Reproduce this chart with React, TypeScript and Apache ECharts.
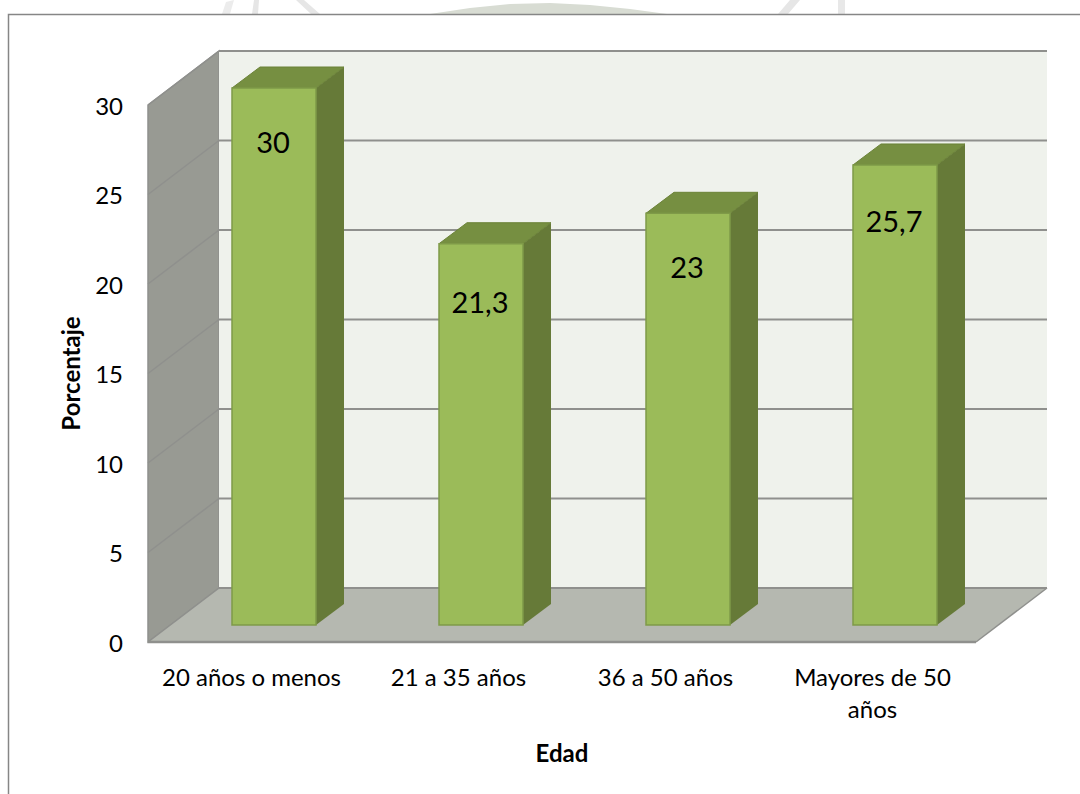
import React, { useEffect, useRef } from "react";
import * as echarts from "echarts";

const categories = ["20 años o menos", "21 a 35 años", "36 a 50 años", "Mayores de 50\naños"];
const values = [30, 21.3, 23, 25.7];
const valueLabels = ["30", "21,3", "23", "25,7"];
const yTicks = [0, 5, 10, 15, 20, 25, 30];
const xAxisName = "Edad";
const yAxisName = "Porcentaje";

const WALL_DX = 71;
const WALL_DY = -54;
const BAR_OFFSET_X = 22.5;
const BAR_OFFSET_Y = -17;
const BAR_WIDTH = 84;
const BAR_DX = 28;
const BAR_DY = -21;
const LABEL_NUDGE = [0, 5, 0, 3];
const FONT = "Lato, 'Open Sans', sans-serif";
const EDGE = "#8f908d";

function renderWalls(_params: any, api: any) {
  const band = api.size([1, 0])[0];
  const [c0, y0] = api.coord([0, 0]);
  const [c3] = api.coord([3, 0]);
  const [, yTop] = api.coord([0, 30]);
  const x0 = c0 - band / 2;
  const x1 = c3 + band / 2;
  const children: any[] = [
    {
      type: "polygon",
      shape: { points: [[x0, y0], [x0, yTop], [x0 + WALL_DX, yTop + WALL_DY], [x0 + WALL_DX, y0 + WALL_DY]] },
      style: { fill: "#989a93", stroke: EDGE, lineWidth: 1.5 },
    },
    {
      type: "rect",
      shape: { x: x0 + WALL_DX, y: yTop + WALL_DY, width: x1 - x0, height: y0 - yTop },
      style: { fill: "#eff2ec" },
    },
    {
      type: "polygon",
      shape: { points: [[x0, y0], [x1, y0], [x1 + WALL_DX, y0 + WALL_DY], [x0 + WALL_DX, y0 + WALL_DY]] },
      style: { fill: "#b5b8b0" },
    },
    {
      type: "line",
      shape: { x1: x1, y1: y0, x2: x1 + WALL_DX, y2: y0 + WALL_DY },
      style: { stroke: EDGE, lineWidth: 1.5 },
    },
  ];
  yTicks.forEach((t) => {
    const [, y] = api.coord([0, t]);
    children.push(
      {
        type: "line",
        shape: { x1: x0, y1: y, x2: x0 + WALL_DX, y2: y + WALL_DY },
        style: { stroke: EDGE, lineWidth: 1.5 },
      },
      {
        type: "line",
        shape: { x1: x0 + WALL_DX, y1: y + WALL_DY, x2: x1 + WALL_DX, y2: y + WALL_DY },
        style: { stroke: EDGE, lineWidth: 2 },
      }
    );
  });
  children.push({
    type: "line",
    shape: { x1: x0, y1: y0, x2: x1, y2: y0 },
    style: { stroke: EDGE, lineWidth: 2.5 },
  });
  return { type: "group", children };
}

function renderBar(params: any, api: any) {
  const i = api.value(0);
  const v = api.value(1);
  const [cx, topRaw] = api.coord([i, v]);
  const [, baseRaw] = api.coord([i, 0]);
  const l = cx + BAR_OFFSET_X - BAR_WIDTH / 2;
  const r = l + BAR_WIDTH;
  const t = topRaw + BAR_OFFSET_Y;
  const b = baseRaw + BAR_OFFSET_Y;
  return {
    type: "group",
    children: [
      {
        type: "polygon",
        shape: { points: [[r, t], [r + BAR_DX, t + BAR_DY], [r + BAR_DX, b + BAR_DY], [r, b]] },
        style: { fill: "#667a38" },
      },
      {
        type: "polygon",
        shape: { points: [[l, t], [l + BAR_DX, t + BAR_DY], [r + BAR_DX, t + BAR_DY], [r, t]] },
        style: { fill: "#768f41", stroke: "#6b8238", lineWidth: 1 },
      },
      {
        type: "rect",
        shape: { x: l, y: t, width: BAR_WIDTH, height: b - t },
        style: { fill: "#9bbb59", stroke: "#7f9a48", lineWidth: 1.5 },
      },
      {
        type: "text",
        style: {
          x: (l + r) / 2 - 1,
          y: t + 53 + LABEL_NUDGE[params.dataIndex],
          text: valueLabels[params.dataIndex],
          fill: "#000",
          font: `29px ${FONT}`,
          align: "center",
          verticalAlign: "middle",
        },
      },
    ],
  };
}

export default function App() {
  const ref = useRef<HTMLDivElement>(null);
  useEffect(() => {
    const chart = echarts.init(ref.current!, undefined, { renderer: "svg" });
    chart.setOption({
      animation: false,
      backgroundColor: "#ffffff",
      textStyle: { fontFamily: FONT },
      grid: { left: 148, top: 105, width: 828, height: 537 },
      graphic: [
        {
          type: "polygon",
          shape: { points: [[430, 14], [470, 8], [510, 4], [550, 3], [590, 5], [630, 9], [667, 14]] },
          style: { fill: "#d8dcd3" },
        },
        {
          type: "polygon",
          shape: { points: [[222, 14], [226, 2], [234, 0], [230, 14]] },
          style: { fill: "#ececec" },
        },
        {
          type: "polygon",
          shape: { points: [[252, 14], [254, 0], [259, 0], [258, 14]] },
          style: { fill: "#e6e6e6" },
        },
        {
          type: "polygon",
          shape: { points: [[296, 0], [304, 0], [320, 14], [311, 14]] },
          style: { fill: "#e6e6e6" },
        },
        {
          type: "polygon",
          shape: { points: [[778, 14], [790, 0], [800, 0], [788, 14]] },
          style: { fill: "#e6e6e6" },
        },
        {
          type: "polygon",
          shape: { points: [[838, 14], [838, 0], [845, 0], [845, 14]] },
          style: { fill: "#e8e8e8" },
        },
        {
          type: "polyline",
          shape: { points: [[8.5, 794], [8.5, 14.5], [1080, 14.5]] },
          style: { stroke: "#868686", fill: "none", lineWidth: 1.5 },
        },
      ],
      xAxis: {
        type: "category",
        data: categories,
        name: xAxisName,
        nameLocation: "middle",
        nameGap: 98,
        nameTextStyle: { fontSize: 24, fontWeight: "bold", color: "#000", fontFamily: FONT },
        axisLine: { show: false },
        axisTick: { show: false },
        axisLabel: { fontSize: 24, color: "#000", margin: 18, lineHeight: 32, interval: 0, fontFamily: FONT },
      },
      yAxis: {
        type: "value",
        min: 0,
        max: 30,
        interval: 5,
        name: yAxisName,
        nameLocation: "middle",
        nameGap: 66,
        nameTextStyle: { fontSize: 24, fontWeight: "bold", color: "#000", fontFamily: FONT },
        axisLine: { show: false },
        axisTick: { show: false },
        splitLine: { show: false },
        axisLabel: { fontSize: 24, color: "#000", margin: 25, fontFamily: FONT },
      },
      series: [
        {
          type: "custom",
          name: "walls",
          renderItem: renderWalls,
          data: [[0, 0]],
          silent: true,
          clip: false,
          z: 1,
        },
        {
          type: "custom",
          name: "Porcentaje",
          renderItem: renderBar,
          encode: { x: 0, y: 1 },
          data: values.map((v, i) => [i, v]),
          clip: false,
          z: 2,
        },
      ],
    });
    return () => chart.dispose();
  }, []);
  return <div ref={ref} style={{ position: "absolute", left: 0, top: 0, width: 1080, height: 794 }} />;
}
